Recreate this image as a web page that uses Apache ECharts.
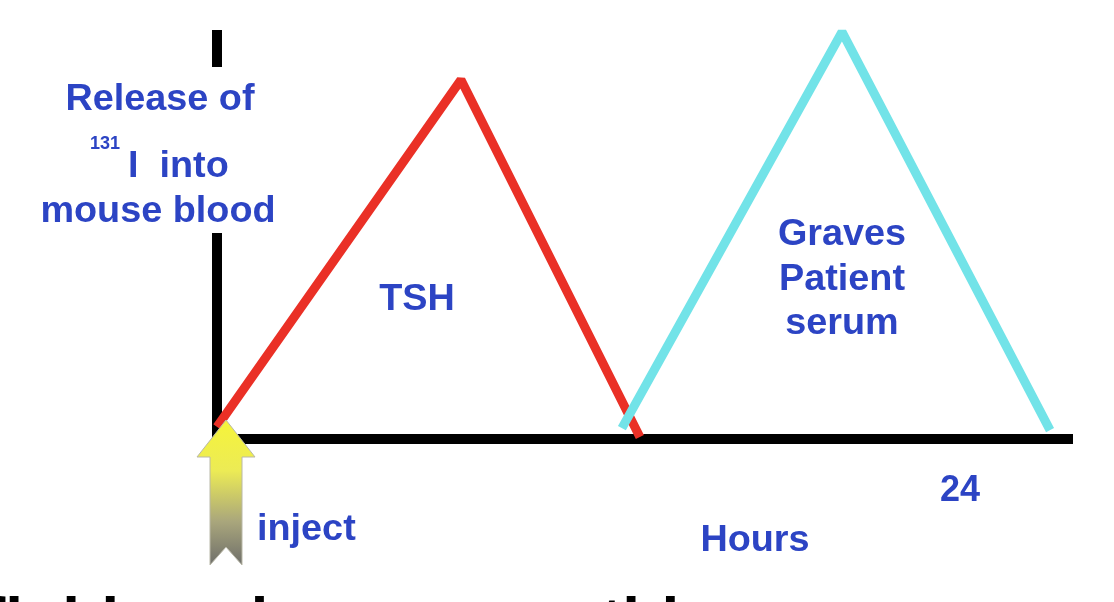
<!DOCTYPE html>
<html><head><meta charset="utf-8">
<script src="https://cdn.jsdelivr.net/npm/echarts@6/dist/echarts.min.js"></script>
<style>html,body{margin:0;padding:0;background:#fff}#c{width:1114px;height:602px}</style>
</head><body><div id="c"></div>
<script>
// Data (hours after injection, relative release of 131I)
const tshHours = [0, 7.88, 13.66];
const tshRelease = [0.31, 9.22, 0.05];
const gravesHours = [13.08, 20.19, 26.91];
const gravesRelease = [0.28, 10.45, 0.23];
const hourTickLabels = [24];
const xMax = 27.49;
const yMax = 10.5;

const BLUE = '#2c44c4';
const FONT = '"Liberation Sans", Arial, sans-serif';

function blueText(text, x, y, align, size) {
  return {
    type: 'text', x: x, y: y, scaleX: 1.05, z: 20,
    style: { text: text, fill: BLUE, font: 'bold ' + (size || 36) + 'px ' + FONT,
             align: align || 'center', verticalAlign: 'middle' }
  };
}

const chart = echarts.init(document.getElementById('c'), null, { renderer: 'canvas' });
chart.setOption({
  animation: false,
  backgroundColor: '#fff',
  grid: { left: 217, right: 46, top: 30, bottom: 163 },
  xAxis: {
    type: 'value', min: 0, max: xMax,
    axisLine: { show: true, onZero: false, lineStyle: { color: '#000', width: 10, cap: 'square' } },
    axisTick: { show: false },
    splitLine: { show: false },
    axisLabel: {
      customValues: hourTickLabels, showMinLabel: false, showMaxLabel: false,
      margin: 34, color: BLUE, fontWeight: 'bold', fontSize: 36, fontFamily: FONT
    }
  },
  yAxis: {
    type: 'value', min: 0, max: yMax,
    axisLine: { show: true, onZero: false, lineStyle: { color: '#000', width: 10, cap: 'butt' } },
    axisTick: { show: false },
    splitLine: { show: false },
    axisLabel: { show: false }
  },
  series: [
    {
      name: 'TSH', type: 'line', symbol: 'none', clip: false,
      data: tshHours.map((h, i) => [h, tshRelease[i]]),
      lineStyle: { color: '#ea3026', width: 9, join: 'bevel' }, z: 3
    },
    {
      name: 'Graves Patient serum', type: 'line', symbol: 'none', clip: false,
      data: gravesHours.map((h, i) => [h, gravesRelease[i]]),
      lineStyle: { color: '#72e3e8', width: 9, join: 'bevel' }, z: 4
    }
  ],
  graphic: [
    // white box behind y-axis title (hides the axis there)
    { type: 'rect', shape: { x: 205, y: 67, width: 22, height: 166 }, style: { fill: '#fff' }, z: 10 },
    blueText('Release of', 160, 100),
    { type: 'text', x: 90, y: 144, z: 20,
      style: { text: '131', fill: BLUE, font: 'bold 18px ' + FONT, align: 'left', verticalAlign: 'middle' } },
    blueText('I  into', 128, 167, 'left'),
    blueText('mouse blood', 158, 212),
    blueText('TSH', 417, 300),
    blueText('Graves', 842, 235),
    blueText('Patient', 842, 280),
    blueText('serum', 842, 324),
    blueText('inject', 257, 530, 'left'),
    blueText('Hours', 755, 541),
    // injection arrow
    {
      type: 'polygon', z: 15,
      shape: { points: [[226, 420], [255, 457], [242, 457], [242, 565], [226, 547], [210, 565], [210, 457], [197, 457]] },
      style: {
        fill: new echarts.graphic.LinearGradient(0, 0, 0, 1, [
          { offset: 0, color: '#f6f43a' },
          { offset: 0.35, color: '#eceb55' },
          { offset: 0.7, color: '#a9a67c' },
          { offset: 1, color: '#6e6e6a' }
        ]),
        stroke: '#b9b8a8', lineWidth: 1
      }
    },
    // clipped slide text at the bottom edge (only the tops show)
    { type: 'text', x: -16, y: 625, z: 20,
      style: { text: 'fluid  and', fill: '#000', font: 'bold 64px ' + FONT, align: 'left', verticalAlign: 'middle' } },
    { type: 'text', x: 601, y: 625, z: 20,
      style: { text: 'this', fill: '#000', font: 'bold 64px ' + FONT, align: 'left', verticalAlign: 'middle' } }
  ]
});
</script>
</body></html>
